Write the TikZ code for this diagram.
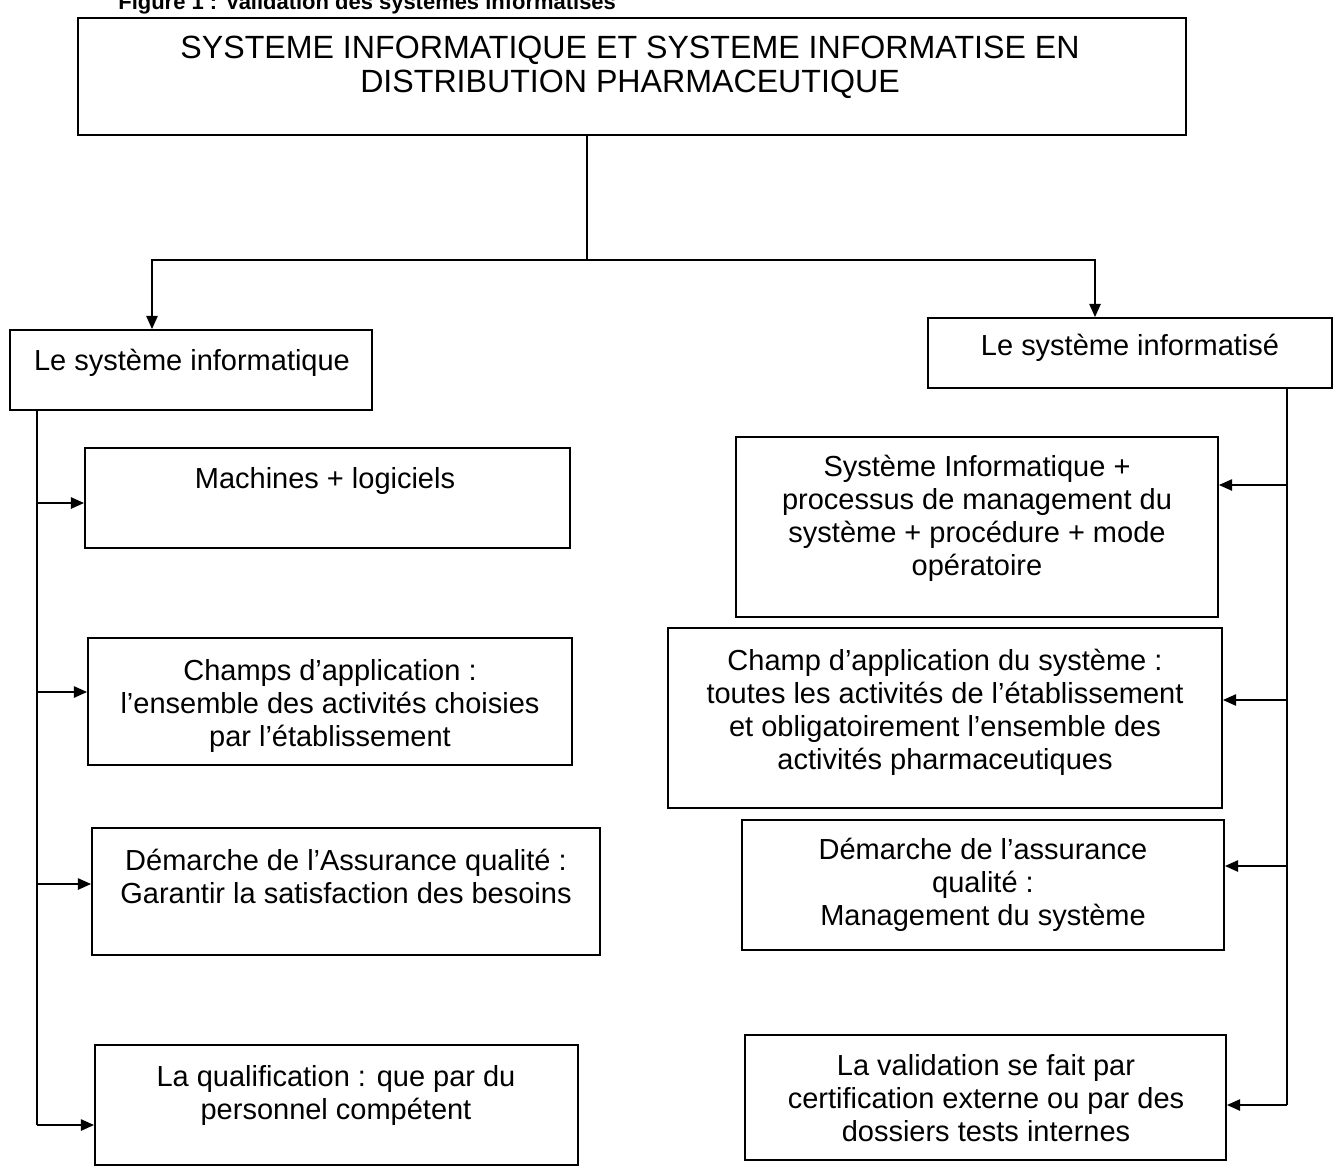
\documentclass[tikz,border=0pt]{standalone}
\usepackage{fontspec}
\setmainfont{Liberation Sans}
\usetikzlibrary{arrows.meta,fit}
\begin{document}
\begin{tikzpicture}[x=0.02cm,y=-0.02cm,
  box/.style={draw, line width=1.1pt, inner sep=0pt},
  txt/.style={anchor=north, inner sep=0pt, align=center,
    font=\fontsize{16.5}{18.8}\selectfont},
  ttl/.style={anchor=north, inner sep=0pt, align=center,
    font=\fontsize{18.3}{19.5}\selectfont},
  link/.style={line width=0.85pt},
  arr/.style={line width=0.85pt, -{Triangle[length=7.5pt,width=6.5pt]}}]
\useasboundingbox (0,0) rectangle (1334,1167);
\newcommand{\fl}{\rule{0pt}{15pt}}
% caption (cut at the top of the page)
\node[anchor=base west, inner sep=0pt, font=\fontsize{12.5}{14}\selectfont\bfseries] (cap) at (118,9)
  {Figure 1 : Validation des systèmes informatisés};
% title
\node[box, fit={(78,18) (1186,135)}] (title) {};
\node[ttl] (titlet) at (630,58-30) {\rule{0pt}{17pt}SYSTEME INFORMATIQUE ET SYSTEME INFORMATISE EN\\DISTRIBUTION PHARMACEUTIQUE};
% level 1
\node[box, fit={(10,330) (372,410)}] (lsys) {};
\node[txt] (lsyst) at (192,370-26.5) {\fl Le système informatique};
\node[box, fit={(928,318) (1332,388)}] (rsys) {};
\node[txt] (rsyst) at (1130,355-26.5) {\fl Le système informatisé};
% left column
\node[box, fit={(85,448) (570,548)}] (l1) {};
\node[txt] (l1t) at (325,488-26.5) {\fl Machines + logiciels};
\node[box, fit={(88,638) (572,765)}] (l2) {};
\node[txt] (l2t) at (330,680-26.5) {\fl Champs d’application :\\l’ensemble des activités choisies\\par l’établissement};
\node[box, fit={(92,828) (600,955)}] (l3) {};
\node[txt] (l3t) at (346,870-26.5) {\fl Démarche de l’Assurance qualité :\\Garantir la satisfaction des besoins};
\node[box, fit={(95,1045) (578,1165)}] (l4) {};
\node[txt] (l4t) at (336,1086-26.5) {\fl La qualification : que par du\\personnel compétent};
% right column
\node[box, fit={(736,437) (1218,617)}] (r1) {};
\node[txt] (r1t) at (977,476-26.5) {\fl Système Informatique +\\processus de management du\\système + procédure + mode\\opératoire};
\node[box, fit={(668,628) (1222,808)}] (r2) {};
\node[txt] (r2t) at (945,670-26.5) {\fl Champ d’application du système :\\toutes les activités de l’établissement\\et obligatoirement l’ensemble des\\activités pharmaceutiques};
\node[box, fit={(742,820) (1224,950)}] (r3) {};
\node[txt] (r3t) at (983,859-26.5) {\fl Démarche de l’assurance\\qualité :\\Management du système};
\node[box, fit={(745,1035) (1226,1160)}] (r4) {};
\node[txt] (r4t) at (986,1075-26.5) {\fl La validation se fait par\\certification externe ou par des\\dossiers tests internes};
% junctions
\coordinate (j) at (587,260);
\coordinate (ja) at (152,260);
\coordinate (jb) at (1095,260);
\coordinate (tl) at (37,1125);
\coordinate (tr) at (1287,1105);
% top connectors
\draw[link] (j |- title.south) -- (j);
\draw[arr] (j) -- (ja) -- (ja |- lsys.north);
\draw[arr] (j) -- (jb) -- (jb |- rsys.north);
% left trunk
\draw[link] (tl |- lsys.south) -- (tl);
\draw[arr] (37,503) -- (37,503 -| l1.west);
\draw[arr] (37,692) -- (37,692 -| l2.west);
\draw[arr] (37,884) -- (37,884 -| l3.west);
\draw[arr] (tl) -- (tl -| l4.west);
% right trunk
\draw[link] (tr |- rsys.south) -- (tr);
\draw[arr] (1287,485) -- (1287,485 -| r1.east);
\draw[arr] (1287,700) -- (1287,700 -| r2.east);
\draw[arr] (1287,866) -- (1287,866 -| r3.east);
\draw[arr] (tr) -- (tr -| r4.east);
\end{tikzpicture}
\end{document}
